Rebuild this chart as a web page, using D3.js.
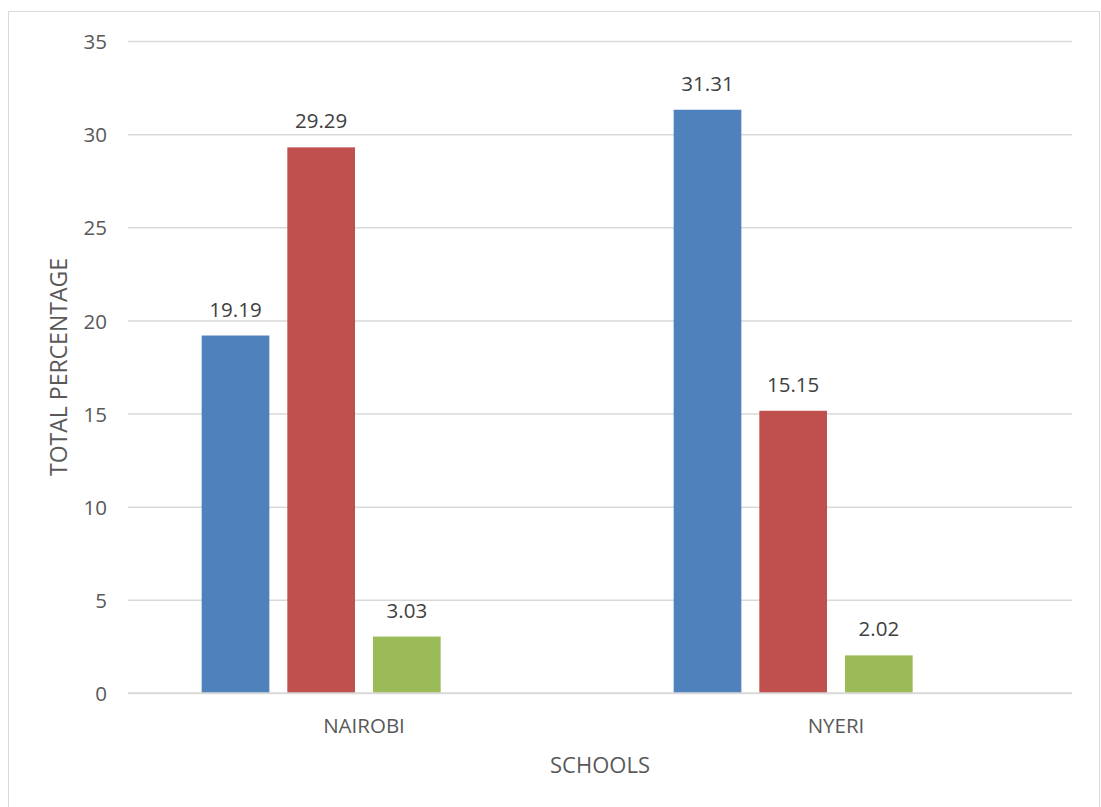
<!DOCTYPE html>
<html>
<head>
<meta charset="utf-8">
<script src="https://cdn.jsdelivr.net/npm/d3@7"></script>
<style>
  html, body { margin: 0; padding: 0; background: #fff; }
  svg { display: block; font-family: "Open Sans", "Noto Sans", sans-serif; }
</style>
</head>
<body>
<svg id="chart" width="1101" height="807"></svg>
<script>
// ---- data ----
const categories = ["NAIROBI", "NYERI"];
const seriesNames = ["Series1", "Series2", "Series3", "Series4"];
const series1 = [19.19, 31.31];
const series2 = [29.29, 15.15];
const series3 = [3.03, 2.02];
const series4 = [null, null];
const seriesColors = ["#4F81BD", "#C0504D", "#9BBB59", "#8064A2"];
const yTicks = [0, 5, 10, 15, 20, 25, 30, 35];
const xTitle = "SCHOOLS";
const yTitle = "TOTAL PERCENTAGE";

const seriesValues = [series1, series2, series3, series4];

// ---- layout ----
const svg = d3.select("#chart");
const plot = { left: 128, right: 1072, top: 41, bottom: 693 };
const textColor = "#595959";
const gridColor = "#D9D9D9";

// chart border
svg.append("rect")
  .attr("x", 8.5).attr("y", 11.5)
  .attr("width", 1091).attr("height", 810)
  .attr("fill", "#fff").attr("stroke", gridColor).attr("stroke-width", 1);

const y = d3.scaleLinear().domain([0, 35]).range([plot.bottom, plot.top]);
const x0 = d3.scaleBand().domain(categories).range([plot.left, plot.right]).padding(0);
const x1 = d3.scaleBand().domain(seriesNames).range([0, x0.bandwidth()])
  .paddingInner(0.21).paddingOuter(0.86);

// gridlines
const yAxis = d3.axisLeft(y).tickValues(yTicks).tickSize(-(plot.right - plot.left)).tickPadding(21).tickFormat(d3.format("d"));
const gy = svg.append("g").attr("transform", `translate(${plot.left},0)`).call(yAxis);
gy.select(".domain").remove();
gy.selectAll(".tick line").attr("stroke", gridColor).attr("stroke-width", 1.5);
gy.selectAll(".tick text")
  .attr("fill", textColor).attr("font-size", 20.5).attr("dy", "0.37em")
  .attr("font-family", "Open Sans, sans-serif");

// bars
const data = [];
categories.forEach((c, ci) => {
  seriesNames.forEach((s, si) => {
    const v = seriesValues[si][ci];
    if (v !== null && v !== undefined) data.push({ cat: c, ser: s, si, value: v });
  });
});

svg.append("g").selectAll("rect").data(data).join("rect")
  .attr("x", d => x0(d.cat) + x1(d.ser))
  .attr("y", d => y(d.value))
  .attr("width", x1.bandwidth())
  .attr("height", d => y(0) - y(d.value))
  .attr("fill", d => seriesColors[d.si]);

// baseline (redraw 0 gridline above bars)
svg.append("line")
  .attr("x1", plot.left).attr("x2", plot.right)
  .attr("y1", y(0)).attr("y2", y(0))
  .attr("stroke", gridColor).attr("stroke-width", 1.5);

// data labels
svg.append("g").selectAll("text").data(data).join("text")
  .attr("x", d => x0(d.cat) + x1(d.ser) + x1.bandwidth() / 2)
  .attr("y", d => y(d.value) - 19)
  .attr("text-anchor", "middle")
  .attr("fill", "#404040")
  .attr("font-size", 20.5)
  .text(d => d3.format(".2f")(d.value));

// x axis labels
const xAxis = d3.axisBottom(x0).tickSize(0).tickPadding(25);
const gx = svg.append("g").attr("transform", `translate(0,${plot.bottom})`).call(xAxis);
gx.select(".domain").remove();
gx.selectAll(".tick text")
  .attr("fill", textColor).attr("font-size", 20.5)
  .attr("font-family", "Open Sans, sans-serif");

// axis titles
svg.append("text")
  .attr("x", (plot.left + plot.right) / 2)
  .attr("y", 773)
  .attr("text-anchor", "middle")
  .attr("fill", textColor)
  .attr("font-size", 22)
  .text(xTitle);

svg.append("text")
  .attr("transform", `translate(67,${(plot.top + plot.bottom) / 2}) rotate(-90)`)
  .attr("text-anchor", "middle")
  .attr("fill", textColor)
  .attr("font-size", 23)
  .text(yTitle);
</script>
</body>
</html>
